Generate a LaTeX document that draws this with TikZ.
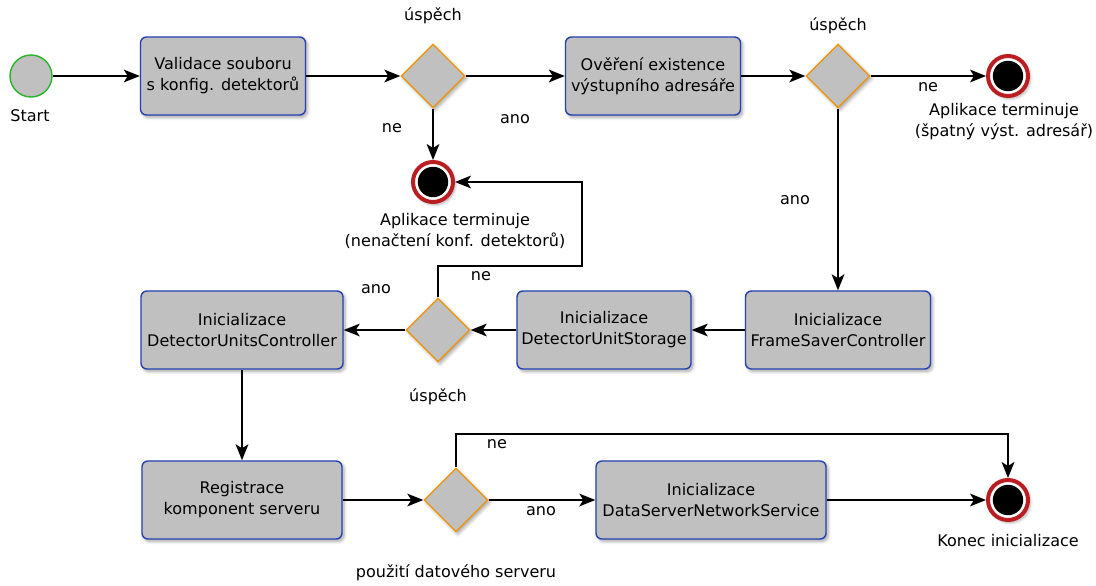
\documentclass[tikz,border=0pt]{standalone}
\usepackage{fontspec}
\setmainfont{DejaVu Sans}
\usetikzlibrary{shapes.geometric,arrows.meta,shadows.blur}
\definecolor{boxgrey}{RGB}{192,192,192}
\definecolor{boxblue}{RGB}{35,65,175}
\definecolor{decorange}{RGB}{235,150,20}
\definecolor{startgreen}{RGB}{40,180,40}
\definecolor{endred}{RGB}{185,30,35}
\begin{document}
\begin{tikzpicture}
  [x=0.025cm,y=-0.025cm,font=\fontsize{11.4}{15}\selectfont,
   softshadow/.style={blur shadow={shadow blur steps=6,shadow xshift=0.05cm,shadow yshift=-0.06cm,
     shadow blur radius=0.08cm,shadow opacity=35}},
   act/.style={rectangle,rounded corners=0.15cm,draw=boxblue,line width=1pt,fill=boxgrey,
     align=center,minimum height=1.95cm,inner sep=0pt,softshadow},
   dec/.style={diamond,aspect=1,draw=decorange,line width=1pt,fill=boxgrey,
     minimum width=1.6cm,minimum height=1.6cm,inner sep=0pt,softshadow},
   startnode/.style={circle,draw=startgreen,line width=1pt,fill=boxgrey,minimum size=1.05cm,inner sep=0pt},
   endnode/.style={circle,draw=endred,line width=0.1cm,fill=white,minimum size=1cm,inner sep=0pt,softshadow,
     path picture={\fill[black] (path picture bounding box.center) circle (0.38cm);}},
   lbl/.style={align=center,inner sep=0pt},
   arr/.style={-{Stealth[length=0.4cm,width=0.32cm,inset=0.1cm]},line width=1pt}]
  \useasboundingbox (0,0) rectangle (1096,585);

  \node[startnode] (start) at (31,76) {};
  \node[act,minimum width=4.125cm] (valid) at (223,76) {Validace souboru\\s konfig. detektorů};
  \node[dec] (okvalid) at (433,76) {};
  \node[act,minimum width=4.375cm] (outdir) at (653,76) {Ověření existence\\výstupního adresáře};
  \node[dec] (okdir) at (838,76) {};
  \node[endnode] (termdir) at (1008,76) {};
  \node[endnode] (termconf) at (433,182) {};

  \node[act,minimum width=4.625cm] (saver) at (838,330) {Inicializace\\FrameSaverController};
  \node[act,minimum width=4.35cm] (storage) at (604,330) {Inicializace\\DetectorUnitStorage};
  \node[dec] (okstorage) at (438,330) {};
  \node[act,minimum width=5.05cm] (units) at (242,330) {Inicializace\\DetectorUnitsController};

  \node[act,minimum width=5cm] (reg) at (242,500) {Registrace\\komponent serveru};
  \node[dec] (useserver) at (456,500) {};
  \node[act,minimum width=5.75cm] (netserv) at (711,500) {Inicializace\\DataServerNetworkService};
  \node[endnode] (finish) at (1008,500) {};

  \node[lbl] (lstart) at (30,116) {Start};
  \node[lbl] (lokvalid) at (433,16) {úspěch};
  \node[lbl] (lokdir) at (838,26) {úspěch};
  \node[lbl] (lokstorage) at (438,397) {úspěch};
  \node[lbl] (luseserver) at (456,573) {použití datového serveru};
  \node[lbl] (ltermdir) at (1004,122) {Aplikace terminuje\\(špatný výst. adresář)};
  \node[lbl] (ltermconf) at (455,231) {Aplikace terminuje\\(nenačtení konf. detektorů)};
  \node[lbl] (lfinish) at (1008,541) {Konec inicializace};
  \node[lbl] (ne1) at (392,128) {ne};
  \node[lbl] (ano1) at (515,119) {ano};
  \node[lbl] (ne2) at (928,87) {ne};
  \node[lbl] (ano2) at (795,200) {ano};
  \node[lbl] (ano3) at (376,289) {ano};
  \node[lbl] (ne3) at (481,276) {ne};
  \node[lbl] (ne4) at (497,444) {ne};
  \node[lbl] (ano4) at (541,511) {ano};

  \coordinate (k1) at (582,266);
  \coordinate (k2) at (1008,434);

  \foreach \from/\to in {start/valid,valid/okvalid,okvalid/outdir,outdir/okdir,okdir/termdir,
      okvalid/termconf,okdir/saver,saver/storage,storage/okstorage,okstorage/units,
      units/reg,reg/useserver,useserver/netserv,netserv/finish}
    \draw[arr] (\from) -- (\to);

  \draw[arr] (okstorage.north) |- (k1) |- (termconf.east);
  \draw[arr] (useserver.north) |- (k2) -- (finish.north);

\end{tikzpicture}
\end{document}
